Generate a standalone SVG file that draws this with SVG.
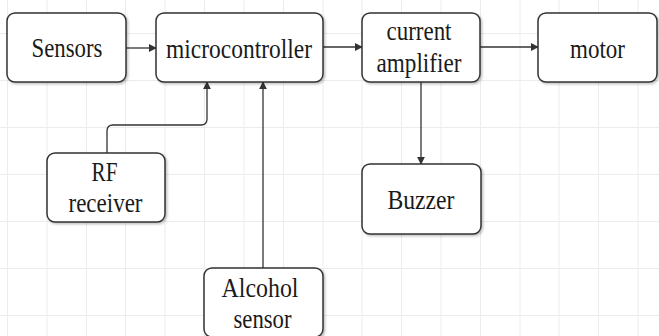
<svg xmlns="http://www.w3.org/2000/svg" width="659" height="336" viewBox="0 0 659 336">
<defs>
<marker id="arr" viewBox="0 0 10 10" refX="9" refY="5" markerWidth="8" markerHeight="8" markerUnits="userSpaceOnUse" orient="auto">
<path d="M0,0 L10,5 L0,10 Z" fill="#333"/>
</marker>
<filter id="sh" x="-10%" y="-10%" width="130%" height="130%">
<feDropShadow dx="1.5" dy="1.5" stdDeviation="1" flood-color="#000" flood-opacity="0.25"/>
</filter>
</defs>
<style>
.grid line{stroke:#ececec;stroke-width:1}
.box{fill:#fff;stroke:#333;stroke-width:1.5;filter:url(#sh)}
.t{font-family:'Liberation Serif','Times New Roman',serif;font-size:27px;fill:#1a1a1a;text-anchor:middle}
.c{fill:none;stroke:#333;stroke-width:1.3;marker-end:url(#arr)}
</style>
<rect width="659" height="336" fill="#fff"/>
<g class="grid">
<line x1="7.5" y1="0" x2="7.5" y2="336"/><line x1="47" y1="0" x2="47" y2="336"/><line x1="86.5" y1="0" x2="86.5" y2="336"/><line x1="125.5" y1="0" x2="125.5" y2="336"/><line x1="165" y1="0" x2="165" y2="336"/><line x1="204.5" y1="0" x2="204.5" y2="336"/><line x1="244" y1="0" x2="244" y2="336"/><line x1="283.5" y1="0" x2="283.5" y2="336"/><line x1="323" y1="0" x2="323" y2="336"/><line x1="362" y1="0" x2="362" y2="336"/><line x1="401.5" y1="0" x2="401.5" y2="336"/><line x1="441" y1="0" x2="441" y2="336"/><line x1="480.5" y1="0" x2="480.5" y2="336"/><line x1="520" y1="0" x2="520" y2="336"/><line x1="559" y1="0" x2="559" y2="336"/><line x1="598.5" y1="0" x2="598.5" y2="336"/><line x1="638" y1="0" x2="638" y2="336"/>
<line x1="0" y1="33.5" x2="659" y2="33.5"/><line x1="0" y1="80.5" x2="659" y2="80.5"/><line x1="0" y1="127.5" x2="659" y2="127.5"/><line x1="0" y1="174.5" x2="659" y2="174.5"/><line x1="0" y1="221.5" x2="659" y2="221.5"/><line x1="0" y1="268.5" x2="659" y2="268.5"/><line x1="0" y1="315.5" x2="659" y2="315.5"/>
</g>
<g id="connectors">
<line class="c" x1="126" y1="48" x2="156" y2="48"/>
<line class="c" x1="323" y1="47" x2="362" y2="47"/>
<line class="c" x1="480" y1="47" x2="538" y2="47"/>
<path class="c" d="M107,153 L107,131 Q107,125 113,125 L201,125 Q207,125 207,119 L207,82"/>
<line class="c" x1="263" y1="268" x2="263" y2="82"/>
<line class="c" x1="421" y1="82" x2="421" y2="164"/>
</g>
<g id="sensors">
<rect class="box" x="7" y="13" width="119" height="69" rx="8"/>
<text class="t" x="67" y="57" textLength="71" lengthAdjust="spacingAndGlyphs">Sensors</text>
</g>
<g id="microcontroller">
<rect class="box" x="156" y="13" width="167" height="69" rx="8"/>
<text class="t" x="239" y="58" textLength="146" lengthAdjust="spacingAndGlyphs">microcontroller</text>
</g>
<g id="amplifier">
<rect class="box" x="362" y="13" width="118" height="69" rx="8"/>
<text class="t" x="419" y="40" textLength="65" lengthAdjust="spacingAndGlyphs">current</text>
<text class="t" x="419" y="72" textLength="85" lengthAdjust="spacingAndGlyphs">amplifier</text>
</g>
<g id="motor">
<rect class="box" x="538" y="13" width="119" height="69" rx="8"/>
<text class="t" x="597.5" y="58" textLength="55" lengthAdjust="spacingAndGlyphs">motor</text>
</g>
<g id="rf">
<rect class="box" x="47" y="153" width="118" height="69" rx="8"/>
<text class="t" x="104.5" y="181" textLength="26" lengthAdjust="spacingAndGlyphs">RF</text>
<text class="t" x="105.5" y="212" textLength="74" lengthAdjust="spacingAndGlyphs">receiver</text>
</g>
<g id="buzzer">
<rect class="box" x="362" y="164" width="119" height="70" rx="8"/>
<text class="t" x="421" y="209" textLength="67" lengthAdjust="spacingAndGlyphs">Buzzer</text>
</g>
<g id="alcohol">
<rect class="box" x="204" y="268" width="119" height="69" rx="8"/>
<text class="t" x="260" y="297" textLength="77" lengthAdjust="spacingAndGlyphs">Alcohol</text>
<text class="t" x="262.5" y="328" textLength="58" lengthAdjust="spacingAndGlyphs">sensor</text>
</g>
</svg>
